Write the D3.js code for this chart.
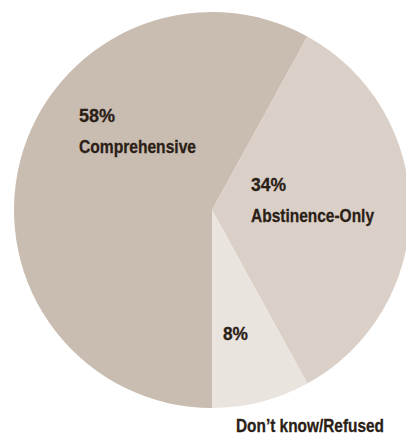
<!DOCTYPE html>
<html>
<head>
<meta charset="utf-8">
<script src="https://cdn.jsdelivr.net/npm/d3@7"></script>
<style>
  html, body { margin: 0; padding: 0; background: #ffffff; }
  svg { display: block; }
  text { font-family: "Liberation Sans", Arial, sans-serif; font-weight: bold; fill: #2a2016; font-size: 18.5px; stroke: #2a2016; stroke-width: 0.3px; }
</style>
</head>
<body>
<svg id="chart" width="406" height="438"></svg>
<script>
const categories = ["Comprehensive", "Abstinence-Only", "Don\u2019t know/Refused"];
const values = [58, 34, 8];
const valueLabels = ["58%", "34%", "8%"];
const colors = ["#c9bcb1", "#dbd0c7", "#eae4df"];

const svg = d3.select("#chart");
const cx = 212, cy = 210, r = 198;

const pie = d3.pie().sort(null).value(d => d.value)
  .startAngle(Math.PI).endAngle(3 * Math.PI);
const data = categories.map((c, i) => ({ name: c, value: values[i], label: valueLabels[i], color: colors[i] }));
const arcs = pie(data);
const arc = d3.arc().innerRadius(0).outerRadius(r);

const g = svg.append("g").attr("transform", `translate(${cx},${cy})`);
g.selectAll("path").data(arcs).enter().append("path")
  .attr("d", arc)
  .attr("fill", d => d.data.color);

// label layout (absolute page coords) and target widths to mimic condensed type
const layout = [
  { px: 79, py: 122, pw: 36, nx: 79, ny: 153, nw: 117 },
  { px: 251, py: 191, pw: 35, nx: 251, ny: 222, nw: 123 },
  { px: 223, py: 340, pw: 25, nx: 236, ny: 432, nw: 148 }
];

arcs.forEach((a, i) => {
  const p = layout[i];
  svg.append("text").attr("x", p.px).attr("y", p.py)
    .attr("textLength", p.pw).attr("lengthAdjust", "spacingAndGlyphs")
    .text(a.data.label);
  svg.append("text").attr("x", p.nx).attr("y", p.ny)
    .attr("textLength", p.nw).attr("lengthAdjust", "spacingAndGlyphs")
    .text(a.data.name);
});
</script>
</body>
</html>
